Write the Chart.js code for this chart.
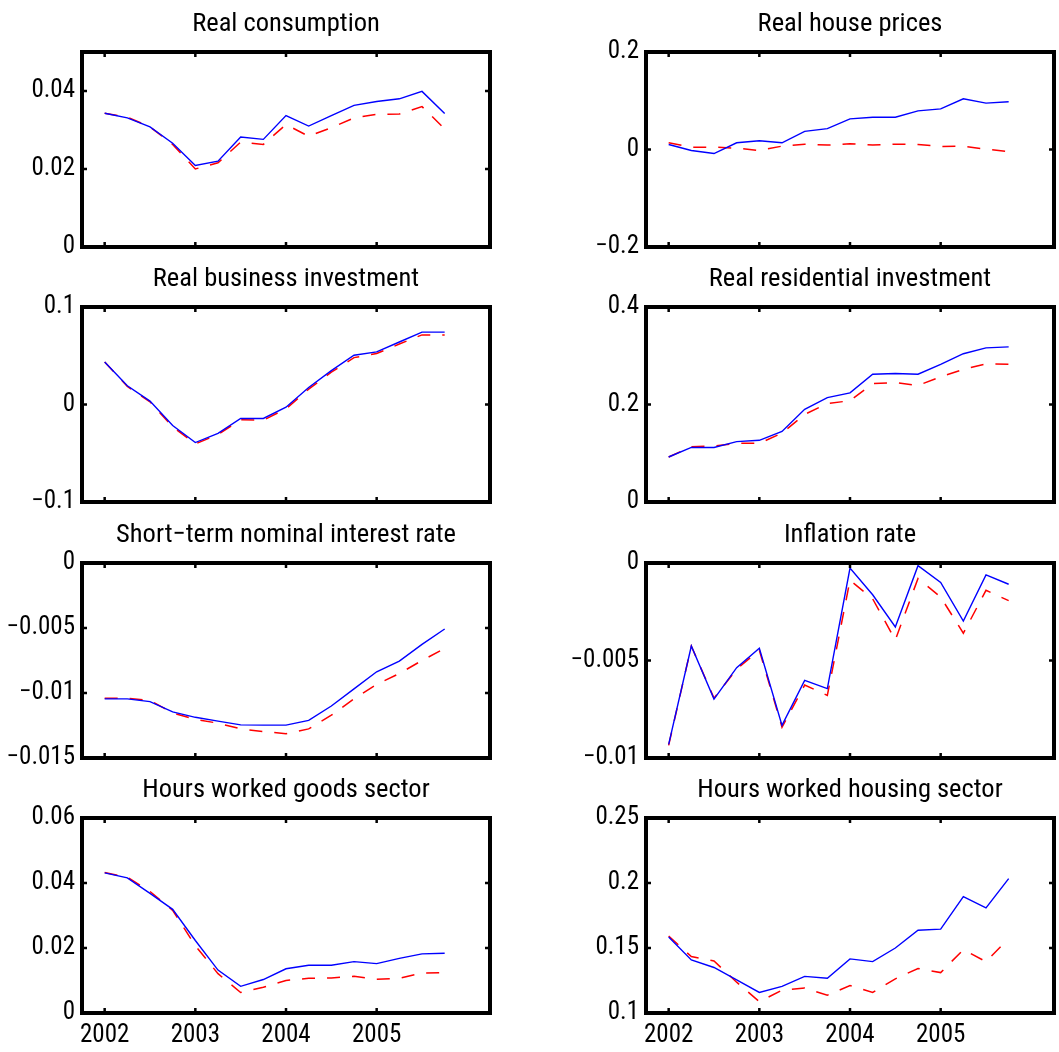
<!DOCTYPE html>
<html><head><meta charset="utf-8">
<script src="https://cdn.jsdelivr.net/npm/chart.js@4.4.0/dist/chart.umd.min.js"></script>
<style>
html,body{margin:0;padding:0;background:#fff;width:1059px;height:1052px;overflow:hidden;position:relative}
canvas.p{position:absolute}
</style></head><body>
<script>
// ---- data ----
const quarters = [2002, 2002.25, 2002.5, 2002.75, 2003, 2003.25, 2003.5, 2003.75,
                  2004, 2004.25, 2004.5, 2004.75, 2005, 2005.25, 2005.5, 2005.75];
const xTicks = [2002, 2003, 2004, 2005];
const xRange = [2001.75, 2006.25];

const titles = ['Real consumption', 'Real house prices', 'Real business investment',
  'Real residential investment', 'Short\u2212term nominal interest rate', 'Inflation rate',
  'Hours worked goods sector', 'Hours worked housing sector'];

const consumptionSolid = [0.0343,0.0331,0.0308,0.0266,0.0209,0.0220,0.0282,0.0276,0.0337,0.0310,0.0337,0.0363,0.0373,0.0380,0.0399,0.0342];
const consumptionDashed = [0.0343,0.0333,0.0308,0.0263,0.0200,0.0216,0.0269,0.0263,0.0314,0.0284,0.0306,0.0331,0.0340,0.0341,0.0360,0.0303];

const housePricesSolid = [0.0103,-0.0020,-0.0083,0.0138,0.0179,0.0138,0.0372,0.0428,0.0628,0.0662,0.0662,0.0793,0.0834,0.1041,0.0952,0.0979];
const housePricesDashed = [0.0138,0.0048,0.0048,0.0028,-0.0020,0.0069,0.0110,0.0090,0.0117,0.0090,0.0110,0.0103,0.0062,0.0069,0.0007,-0.0041];

const businessInvSolid = [0.0436,0.0192,0.0035,-0.0216,-0.0390,-0.0296,-0.0143,-0.0143,-0.0028,0.0174,0.0348,0.0505,0.0540,0.0641,0.0742,0.0742];
const businessInvDashed = [0.0436,0.0185,0.0028,-0.0230,-0.0404,-0.0307,-0.0157,-0.0160,-0.0045,0.0157,0.0331,0.0481,0.0523,0.0620,0.0714,0.0714];

const residentialInvSolid = [0.0923,0.1119,0.1119,0.1238,0.1266,0.1448,0.1902,0.2140,0.2238,0.2622,0.2636,0.2622,0.2825,0.3042,0.3161,0.3182];
const residentialInvDashed = [0.0923,0.1133,0.1147,0.1203,0.1203,0.1413,0.1797,0.2021,0.2077,0.2427,0.2448,0.2392,0.2566,0.2720,0.2832,0.2825];

const interestSolid = [-0.01045,-0.01045,-0.01066,-0.01145,-0.01187,-0.01216,-0.01245,-0.01247,-0.01247,-0.01211,-0.01100,-0.00968,-0.00837,-0.00755,-0.00626,-0.00508];
const interestDashed = [-0.01040,-0.01040,-0.01058,-0.01153,-0.01203,-0.01232,-0.01276,-0.01297,-0.01313,-0.01276,-0.01171,-0.01045,-0.00934,-0.00850,-0.00750,-0.00658];

const inflationSolid = [-0.00930,-0.00426,-0.00698,-0.00537,-0.00437,-0.00833,-0.00602,-0.00644,-0.00026,-0.00163,-0.00328,-0.00014,-0.00100,-0.00298,-0.00061,-0.00109];
const inflationDashed = [-0.00935,-0.00426,-0.00693,-0.00544,-0.00447,-0.00842,-0.00626,-0.00679,-0.00088,-0.00184,-0.00395,-0.00079,-0.00175,-0.00360,-0.00140,-0.00193];

const hoursGoodsSolid = [0.0431,0.0416,0.0368,0.0319,0.0223,0.0132,0.0082,0.0103,0.0136,0.0147,0.0147,0.0158,0.0152,0.0168,0.0182,0.0184];
const hoursGoodsDashed = [0.0432,0.0418,0.0374,0.0316,0.0207,0.0121,0.0063,0.0079,0.0100,0.0107,0.0108,0.0113,0.0104,0.0107,0.0123,0.0124];

const hoursHousingSolid = [0.1584,0.1408,0.1350,0.1255,0.1158,0.1205,0.1282,0.1268,0.1416,0.1395,0.1500,0.1637,0.1645,0.1895,0.1808,0.2034];
const hoursHousingDashed = [0.1592,0.1434,0.1400,0.1237,0.1087,0.1176,0.1192,0.1137,0.1211,0.1158,0.1263,0.1342,0.1311,0.1487,0.1395,0.1574];

const yTicksList = [
  [0, 0.02, 0.04],
  [-0.2, 0, 0.2],
  [-0.1, 0, 0.1],
  [0, 0.2, 0.4],
  [-0.015, -0.01, -0.005, 0],
  [-0.01, -0.005, 0],
  [0, 0.02, 0.04, 0.06],
  [0.1, 0.15, 0.2, 0.25]
];
const yRanges = [[0,0.05],[-0.2,0.2],[-0.1,0.1],[0,0.4],[-0.015,0],[-0.01,0],[0,0.06],[0.1,0.25]];

const solidSeries = [consumptionSolid, housePricesSolid, businessInvSolid, residentialInvSolid,
                     interestSolid, inflationSolid, hoursGoodsSolid, hoursHousingSolid];
const dashedSeries = [consumptionDashed, housePricesDashed, businessInvDashed, residentialInvDashed,
                      interestDashed, inflationDashed, hoursGoodsDashed, hoursHousingDashed];

// ---- layout ----
const FONT = "'Roboto Condensed', 'DejaVu Sans Condensed', 'Liberation Sans', Arial, sans-serif";
const colLeft = [0, 530], colWidth = [530, 529];
const areaLeft = [82, 116], padRight = [40, 5];
const rowTop = [0, 255, 511, 766];
const TITLE_H = 52, BOX_H = 195;

const framePlugin = {
  id: 'frame',
  afterDatasetsDraw(chart) {
    const {ctx, chartArea: a, scales} = chart;
    ctx.save();
    ctx.strokeStyle = '#000';
    ctx.lineWidth = 2.5;
    ctx.beginPath();
    scales.x.ticks.forEach(t => {
      const px = scales.x.getPixelForValue(t.value);
      ctx.moveTo(px, a.bottom); ctx.lineTo(px, a.bottom - 5);
      ctx.moveTo(px, a.top); ctx.lineTo(px, a.top + 5);
    });
    scales.y.ticks.forEach(t => {
      const py = scales.y.getPixelForValue(t.value);
      ctx.moveTo(a.left, py); ctx.lineTo(a.left + 5, py);
      ctx.moveTo(a.right, py); ctx.lineTo(a.right - 5, py);
    });
    ctx.stroke();
    ctx.lineWidth = 4;
    ctx.strokeRect(a.left, a.top, a.right - a.left, a.bottom - a.top);
    ctx.restore();
  }
};

for (let i = 0; i < 8; i++) {
  const col = i % 2, row = Math.floor(i / 2);
  const bottomRow = row === 3;
  const xH = bottomRow ? 39 : 26;
  const cv = document.createElement('canvas');
  cv.className = 'p';
  const w = colWidth[col], h = TITLE_H + BOX_H + xH;
  cv.width = w; cv.height = h;
  cv.style.left = colLeft[col] + 'px';
  cv.style.top = rowTop[row] + 'px';
  cv.style.width = w + 'px'; cv.style.height = h + 'px';
  document.body.appendChild(cv);

  const yt = yTicksList[i];
  new Chart(cv, {
    type: 'line',
    data: {
      datasets: [
        { data: quarters.map((q, k) => ({x: q, y: solidSeries[i][k]})),
          borderColor: '#0000ff', borderWidth: 1.4, pointRadius: 0, tension: 0, fill: false },
        { data: quarters.map((q, k) => ({x: q, y: dashedSeries[i][k]})),
          borderColor: '#ff0000', borderWidth: 1.5, borderDash: [13, 12], pointRadius: 0, tension: 0, fill: false }
      ]
    },
    options: {
      responsive: false, animation: false, devicePixelRatio: 1,
      layout: { padding: { left: 0, right: padRight[col], top: 0, bottom: 0 } },
      plugins: {
        legend: { display: false }, tooltip: { enabled: false },
        title: { display: true, text: titles[i], fullSize: false, color: '#000',
                 font: { family: FONT, size: 26.5, weight: 'normal', lineHeight: 1.2 },
                 padding: { top: 8, bottom: 12.2 } }
      },
      scales: {
        x: {
          type: 'linear', min: xRange[0], max: xRange[1],
          grid: { display: false, drawTicks: false }, border: { display: false },
          afterBuildTicks: s => { s.ticks = xTicks.map(v => ({ value: v })); },
          afterFit: s => { s.height = xH; },
          ticks: { display: bottomRow, color: '#000', padding: 8, maxRotation: 0, autoSkip: false,
                   font: { family: FONT, size: 25 }, callback: v => String(v) }
        },
        y: {
          min: yRanges[i][0], max: yRanges[i][1],
          grid: { display: false, drawTicks: false }, border: { display: false },
          afterBuildTicks: s => { s.ticks = yt.map(v => ({ value: v })); },
          afterFit: s => { s.width = areaLeft[col]; },
          ticks: { color: '#000', padding: 7, autoSkip: false,
                   font: { family: FONT, size: 25 },
                   callback: v => String(v).replace('-', '\u2212') }
        }
      }
    },
    plugins: [framePlugin]
  });
}
</script>
</body></html>
